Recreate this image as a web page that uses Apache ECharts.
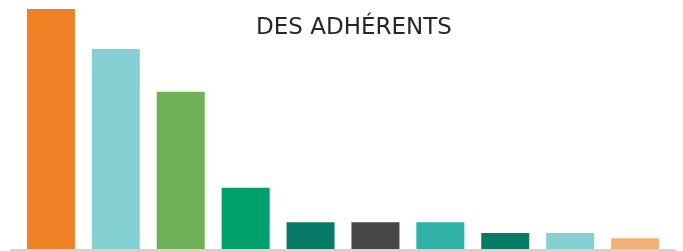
<!DOCTYPE html>
<html>
<head>
<meta charset="utf-8">
<script src="https://cdn.jsdelivr.net/npm/echarts@6/dist/echarts.min.js"></script>
<style>
  html, body { margin: 0; padding: 0; background: #fff; }
  #chart { width: 683px; height: 251px; }
</style>
</head>
<body>
<div id="chart"></div>
<script>
// data (no labels shown)
var categories = ['Cat. 1', 'Cat. 2', 'Cat. 3', 'Cat. 4', 'Cat. 5', 'Cat. 6', 'Cat. 7', 'Cat. 8', 'Cat. 9', 'Cat. 10'];
var values = [90, 75, 59, 23, 10, 10, 10, 6, 6, 4];
var colors = ['#EE8126', '#84D0D2', '#6DB256', '#00A06D', '#087A68', '#464648', '#30B2A8', '#087A68', '#84D0D2', '#F4AF77'];

var chart = echarts.init(document.getElementById('chart'));

var options = {
    animation: false,
    title: {
        text: 'DES ADHÉRENTS',
        left: 349,
        top: 12,
        textAlign: 'center',
        textStyle: {
            fontFamily: 'DejaVu Sans',
            fontWeight: 'normal',
            fontSize: 23,
            color: '#2A2627'
        }
    },
    grid: [
        {left: 18.5, right: 15.5, top: 9, bottom: 2},
        // second grid only used to draw the long baseline
        {left: 11, right: 8, top: 9, bottom: 1}
    ],
    xAxis: [
        {
            type: 'category',
            gridIndex: 0,
            data: categories,
            axisLine: {show: false},
            axisTick: {show: false},
            axisLabel: {show: false}
        },
        {
            type: 'category',
            gridIndex: 1,
            data: [''],
            axisLine: {show: true, lineStyle: {color: '#D3D3D3', width: 2}},
            axisTick: {show: false},
            axisLabel: {show: false}
        }
    ],
    yAxis: [
        {type: 'value', gridIndex: 0, min: 0, max: 90, show: false, splitLine: {show: false}},
        {type: 'value', gridIndex: 1, show: false, splitLine: {show: false}}
    ],
    series: [
        {
            type: 'bar',
            xAxisIndex: 0,
            yAxisIndex: 0,
            barWidth: 48,
            data: values.map(function (v, i) {
                return {value: v, itemStyle: {color: colors[i]}};
            })
        }
    ]
};

chart.setOption(options);
</script>
</body>
</html>
